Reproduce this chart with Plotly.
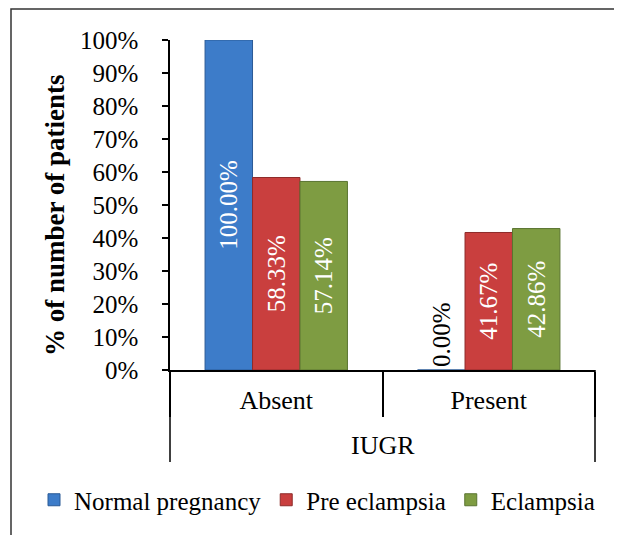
import plotly.graph_objects as go

group_label = "IUGR"
categories = ["Absent", "Present"]
series_names = ["Normal pregnancy", "Pre eclampsia", "Eclampsia"]
normal_vals = [100.00, 0.00]
pre_vals = [58.33, 41.67]
ecl_vals = [57.14, 42.86]
y_ticks = [0, 10, 20, 30, 40, 50, 60, 70, 80, 90, 100]
y_title = "% of number of patients"

colors = ["#3D7CC9", "#C93F3E", "#7E9C42"]
edges = ["#2A5A96", "#8E2B2A", "#5A7430"]

FONT = "Liberation Serif"

fig = go.Figure()
for name, vals, c, e in zip(series_names, [normal_vals, pre_vals, ecl_vals], colors, edges):
    pos = ["inside" if v > 5 else "outside" for v in vals]
    fig.add_trace(go.Bar(
        x=categories, y=vals, name=name,
        marker=dict(color=c, line=dict(color=e, width=1)),
        text=[f"{v:.2f}%" for v in vals],
        textposition=pos, textangle=-90,
        insidetextanchor="middle",
        textfont=dict(size=25, family=FONT),
        insidetextfont=dict(color="white", size=25, family=FONT),
        outsidetextfont=dict(color="black", size=25, family=FONT),
        constraintext="none", cliponaxis=False,
    ))

# page body has an 8px margin, so the figure is laid out in page coordinates minus 8
OFF = 8
W, H = 622, 535
PL, PR, PT, PB = 170, 595, 40, 370          # plot area in page pixels
L, R, T, B = PL - OFF, W - (PR - OFF), PT - OFF, H - (PB - OFF)
pw, ph = PR - PL, PB - PT
def px(xp): return (xp - PL) / pw
def py(yp): return (PB - yp) / ph

# outer chart border
fig.add_shape(type="rect", xref="paper", yref="paper",
              x0=px(11), x1=px(616), y0=py(560), y1=py(9),
              line=dict(color="#333333", width=1.5), layer="below")
# outer group dividers of the category axis
for xe in (0, 1):
    fig.add_shape(type="line", xref="paper", yref="paper",
                  x0=xe, x1=xe, y0=0, y1=py(462),
                  line=dict(color="black", width=1.5))
fig.add_annotation(text=group_label, xref="paper", yref="paper",
                   x=0.5, y=py(445), showarrow=False,
                   xanchor="center", yanchor="middle",
                   font=dict(size=26, family=FONT, color="black"))
# y axis title
fig.add_annotation(text=f"<b>{y_title}</b>", xref="paper", yref="paper",
                   x=px(55), y=py(215), textangle=-90, showarrow=False,
                   xanchor="center", yanchor="middle",
                   font=dict(size=27, family=FONT, color="black"))

fig.update_layout(
    width=W, height=H,
    margin=dict(l=L, r=R, t=T, b=B, autoexpand=False),
    barmode="group", bargap=0.33, bargroupgap=0,
    plot_bgcolor="white", paper_bgcolor="white",
    font=dict(family=FONT, size=25, color="black"),
    showlegend=True,
    legend=dict(orientation="h", x=px(34), xanchor="left", y=py(500), yanchor="middle",
                font=dict(size=25, family=FONT, color="black"), itemwidth=30,
                traceorder="normal", bgcolor="rgba(0,0,0,0)"),
    xaxis=dict(type="category", showline=True, linecolor="black", linewidth=1.5,
               ticks="outside", tickson="boundaries", ticklen=45,
               tickcolor="black", tickwidth=1.5, ticklabelstandoff=6,
               tickfont=dict(size=26, family=FONT, color="black"), showgrid=False),
    yaxis=dict(range=[0, 100], tickvals=y_ticks, ticktext=[f"{v}%" for v in y_ticks],
               showline=True, linecolor="black", linewidth=1.5,
               ticks="outside", ticklen=6, tickcolor="black", tickwidth=1.5,
               ticklabelstandoff=19, showgrid=False, zeroline=False,
               tickfont=dict(size=25, family=FONT, color="black")),
)

fig.write_html("out.html")
